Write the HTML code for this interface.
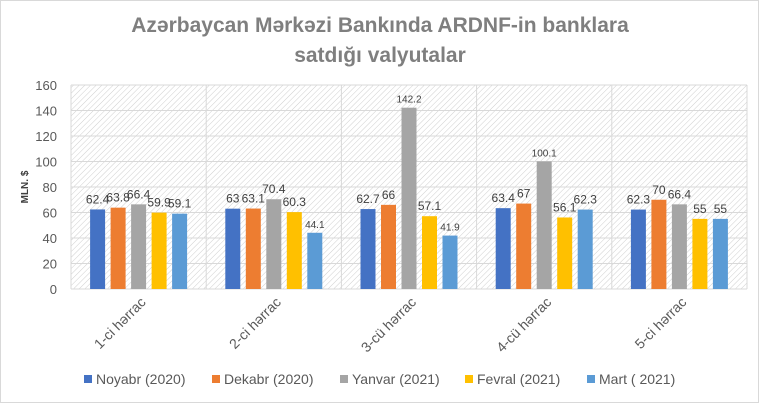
<!DOCTYPE html>
<html><head><meta charset="utf-8"><style>
body{margin:0;background:#fff;}
svg{font-family:"Liberation Sans",Arial,sans-serif;display:block}
</style></head><body>
<svg id="chart" width="759" height="403" xmlns="http://www.w3.org/2000/svg">
<defs>
<pattern id="hatch" width="4" height="4" patternUnits="userSpaceOnUse" patternTransform="rotate(45)">
<rect width="4" height="4" fill="#fff"/><line x1="0" y1="0" x2="0" y2="4" stroke="#cfcfcf" stroke-width="1"/>
</pattern>
</defs>
<rect x="0.5" y="0.5" width="758" height="402" fill="#fff" stroke="#d9d9d9"/>
<text x="380" y="32" text-anchor="middle" font-size="21" font-weight="bold" fill="#7f7f7f">Azərbaycan Mərkəzi Bankında ARDNF-in banklara</text>
<text x="380" y="62" text-anchor="middle" font-size="21" font-weight="bold" fill="#7f7f7f">satdığı valyutalar</text>
<rect x="71" y="85" width="676" height="204" fill="url(#hatch)"/>
<text transform="translate(28,187) rotate(-90)" text-anchor="middle" font-size="10" font-weight="bold" fill="#404040">MLN. $</text>
<g id="grid"></g><g id="bars"></g><g id="labels"></g><g id="legend"></g>
</svg>
<script>
const categories=["1-ci hərrac","2-ci hərrac","3-cü hərrac","4-cü hərrac","5-ci hərrac"];
const seriesNames=["Noyabr (2020)","Dekabr (2020)","Yanvar (2021)","Fevral (2021)","Mart ( 2021)"];
const colors=["#4472c4","#ed7d31","#a5a5a5","#ffc000","#5b9bd5"];
const noyabr=[62.4,63,62.7,63.4,62.3];
const dekabr=[63.8,63.1,66,67,70];
const yanvar=[66.4,70.4,142.2,100.1,66.4];
const fevral=[59.9,60.3,57.1,56.1,55];
const mart=[59.1,44.1,41.9,62.3,55];
const series=[noyabr,dekabr,yanvar,fevral,mart];
const yTicks=[0,20,40,60,80,100,120,140,160];
const NS="http://www.w3.org/2000/svg";
const L=71,R=747,T=85,B=289,yMax=160;
const y=v=>B-(v/yMax)*(B-T);
const cw=(R-L)/categories.length;
const x=(c,s)=>L+cw*c+cw/2+(s-2)*20.5-7.5;
function mk(tag,attrs,parent){const e=document.createElementNS(NS,tag);for(const k in attrs)e.setAttribute(k,attrs[k]);document.getElementById(parent).appendChild(e);return e;}
yTicks.forEach(t=>{
 const l=mk('line',{x1:L,x2:R,y1:y(t),y2:y(t),stroke:'#d9d9d9'},'grid');
 
 
 const tx=mk('text',{x:L-14,y:y(t)+5,'text-anchor':'end','font-size':13,fill:'#595959'},'grid');
 tx.textContent=t;
 
 
});
for(let c=0;c<=categories.length;c++){
 const l=mk('line',{x1:L+cw*c,x2:L+cw*c,y1:T,y2:B,stroke:'#d9d9d9'},'grid');
 
 
}
categories.forEach((cat,c)=>{
 const cx=L+cw*c+cw/2+8;
 const t=mk('text',{x:cx,y:303,'text-anchor':'end','font-size':14,fill:'#595959',transform:`rotate(-45 ${cx} 303)`},'labels');
 t.textContent=cat;
 
 
 series.forEach((arr,s)=>{
  const v=arr[c];
  const r=mk('rect',{x:x(c,s),y:y(v),width:15,height:B-y(v),fill:colors[s]},'bars');
  
  
  const big=v>90||v<45;
  const lb=mk('text',{x:x(c,s)+7.5,y:y(v)-(big?5:6),'text-anchor':'middle','font-size':big?10:12,fill:'#404040'},'labels');
  lb.textContent=v;
  
  
 });
});
const legX=[84,212,340,465,587];
seriesNames.forEach((n,s)=>{
 const r=mk('rect',{x:legX[s],y:375,width:8,height:8,fill:colors[s]},'legend');
 
 
 const t=mk('text',{x:legX[s]+12,y:384,'font-size':14,fill:'#595959'},'legend');
 t.textContent=n;
 
 
});
</script>
</body></html>
